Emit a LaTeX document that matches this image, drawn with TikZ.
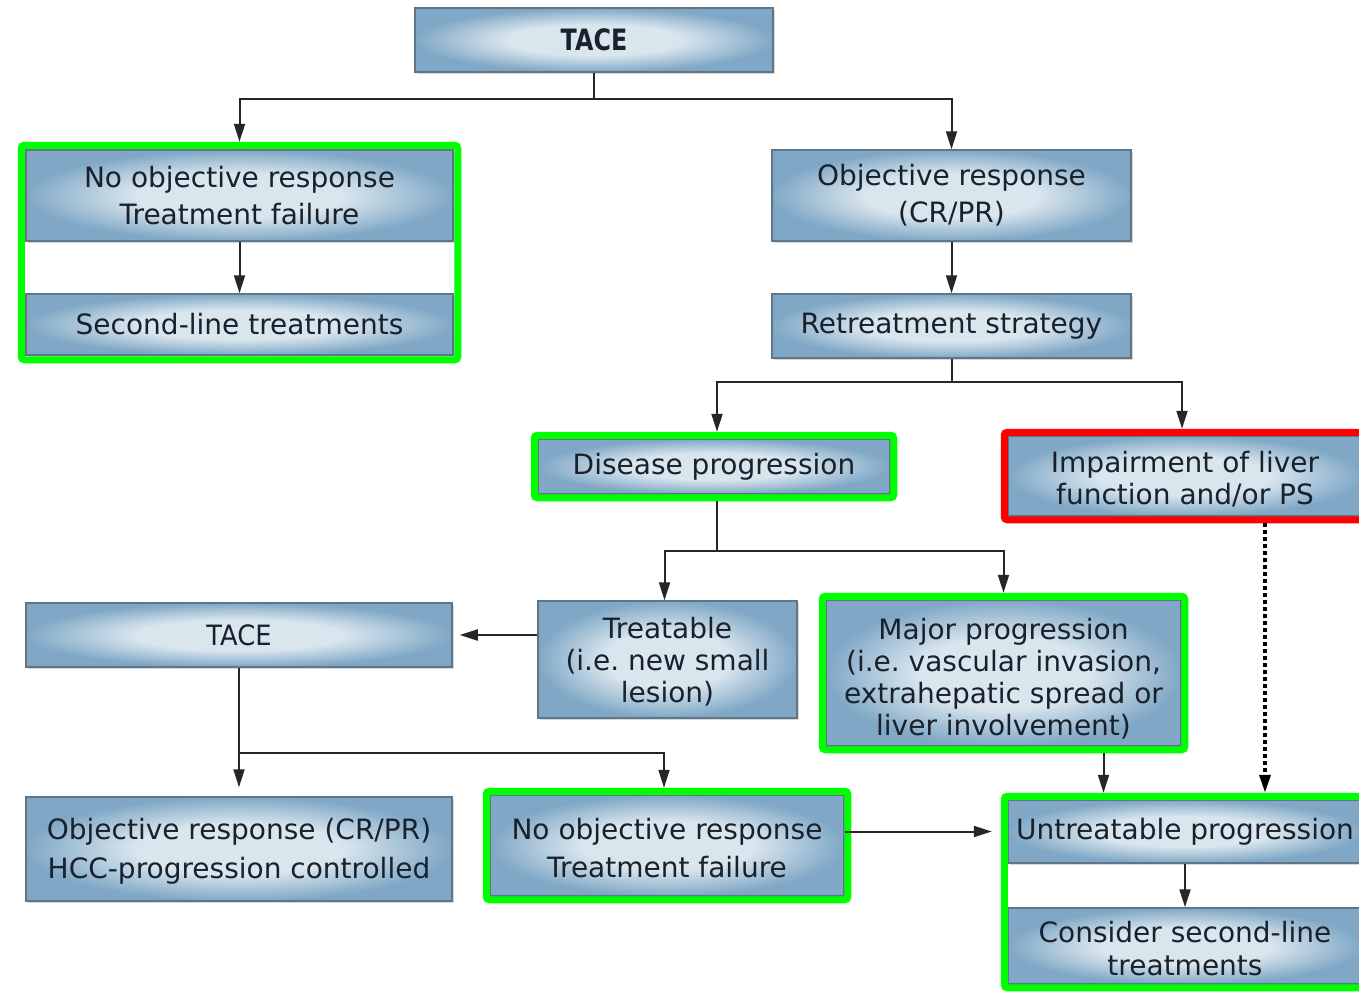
\documentclass[tikz,border=0pt]{standalone}
\usepackage{fontspec}
\setmainfont{DejaVu Sans}
\usetikzlibrary{arrows.meta,shadows,fit,calc}
\frenchspacing

\definecolor{boxin}{HTML}{DAE6EE}
\definecolor{boxout}{HTML}{80A8C6}
\definecolor{boxedge}{HTML}{5F7689}
\definecolor{ink}{HTML}{18212C}
\definecolor{wire}{HTML}{262626}
\definecolor{hlgreen}{HTML}{00FF00}
\definecolor{hlred}{HTML}{FF0000}

% light centre fading to a darker blue rim
\pgfdeclareradialshading{boxshade}{\pgfpoint{0bp}{0bp}}{%
  color(0bp)=(boxin); color(12bp)=(boxin); color(25bp)=(boxout); color(50bp)=(boxout)}

\begin{document}
\begin{tikzpicture}[x=1pt,y=-1pt,
  box/.style={draw=boxedge, line width=1.5pt, shading=boxshade,
    drop shadow={shadow xshift=1.5pt, shadow yshift=-2pt, opacity=0.3},
    inner sep=0pt, align=center, text=ink,
    font=\fontsize{28}{37}\selectfont},
  gframe/.style={draw=hlgreen, line width=7pt, rounded corners=3pt, inner sep=3pt},
  rframe/.style={draw=hlred, line width=7pt, rounded corners=3pt, inner sep=3pt},
  conn/.style={draw=wire, line width=2pt, -{Triangle[length=18pt,width=11pt]}},
  dotconn/.style={draw=black, line width=3.5pt, dash pattern=on 3.5pt off 3.5pt,
    -{Triangle[length=18pt,width=11pt]}}]

\fill[white] (0,0) rectangle (1359,993);
\useasboundingbox (0,0) rectangle (1359,993);

% boxes
\node[box, minimum width=358pt, minimum height=64pt] (tace1) at (594,40)
  {\bfseries\scalebox{0.85}[1.05]{TACE}};
\node[box, minimum width=427pt, minimum height=91pt] (nor1) at (239.5,195.5)
  {No objective response\\Treatment failure};
\node[box, minimum width=427pt, minimum height=61pt] (sec1) at (239.5,324.5)
  {Second-line treatments};
\node[box, minimum width=359pt, minimum height=91pt] (obj1) at (951.5,195.5)
  {Objective response\\(CR/PR)};
\node[box, minimum width=359pt, minimum height=64pt] (retr) at (951.5,326)
  {Retreatment strategy};
\node[box, minimum width=352pt, minimum height=55pt] (dis) at (714,466.5)
  {Disease progression};
\node[box, minimum width=354pt, minimum height=80pt, font=\fontsize{28}{32}\selectfont]
  (imp) at (1185,476) {\rule{0pt}{27pt}Impairment of liver\\function and/or PS};
\node[box, minimum width=259pt, minimum height=117pt, font=\fontsize{28}{32}\selectfont]
  (treat) at (667.5,659.5) {\rule{0pt}{25pt}Treatable\\(i.e. new small\\lesion)};
\node[box, minimum width=426pt, minimum height=64pt] (tace2) at (239,635)
  {\scalebox{0.92}[1]{TACE}};
\node[box, minimum width=355pt, minimum height=146pt, font=\fontsize{28}{32}\selectfont]
  (major) at (1003.5,673)
  {\rule{0pt}{33pt}Major progression\\(i.e. vascular invasion,\\extrahepatic spread or\\liver involvement)};
\node[box, minimum width=426pt, minimum height=104pt, font=\fontsize{28}{39}\selectfont]
  (objhcc) at (239,849) {\rule{0pt}{26pt}Objective response (CR/PR)\\HCC-progression controlled};
\node[box, minimum width=354pt, minimum height=101pt, font=\fontsize{28}{38}\selectfont]
  (nor2) at (667,845.5) {\rule{0pt}{26pt}No objective response\\Treatment failure};
\node[box, minimum width=354pt, minimum height=63pt] (untr) at (1185,831.5)
  {Untreatable progression};
\node[box, minimum width=354pt, minimum height=76pt, font=\fontsize{28}{33}\selectfont]
  (cons) at (1185,946) {\rule{0pt}{26pt}Consider second-line\\treatments};

% highlight frames
\node[gframe, fit=(nor1)(sec1), inner sep=4pt] (f1) {};
\node[gframe, fit=(dis)] (fdis) {};
\node[rframe, fit=(imp)] (fimp) {};
\node[gframe, fit=(major)] (fmaj) {};
\node[gframe, fit=(nor2)] (fnor2) {};
\node[gframe, fit=(untr)(cons)] (fbr) {};

% connectors
\draw[conn] (tace1.south) -- ++(0,26) -| (f1.north);
\draw[conn] (tace1.south) -- ++(0,26) -| (obj1.north);
\draw[conn] (nor1.south) -- (sec1.north);
\draw[conn] (obj1.south) -- (retr.north);
\draw[conn] (retr.south) -- ++(0,23) -| ([xshift=3pt]fdis.north);
\draw[conn] (retr.south) -- ++(0,23) -| ([xshift=-3pt]fimp.north);
\draw[conn] ([xshift=3pt]fdis.south) -- ++(0,50) -| ([xshift=-3pt]treat.north);
\draw[conn] ([xshift=3pt]fdis.south) -- ++(0,50) -| (fmaj.north);
\draw[conn, shorten >=7pt] (treat.west |- tace2.east) -- (tace2.east);
\draw[conn, shorten >=9pt] (tace2.south) -- ++(0,85) -| (objhcc.north);
\draw[conn] (tace2.south) -- ++(0,85) -| ([xshift=-3pt]fnor2.north);
\draw[conn, shorten >=9pt] (nor2.east |- untr.west) -- (fbr.west |- untr.west);
\draw[conn] ([xshift=100pt]fmaj.south) -- ([xshift=100pt]fmaj.south |- fbr.north);
\draw[dotconn] ([xshift=80pt]fimp.south) -- ([xshift=80pt]fimp.south |- fbr.north);
\draw[conn] (untr.south) -- (cons.north);

\end{tikzpicture}
\end{document}
